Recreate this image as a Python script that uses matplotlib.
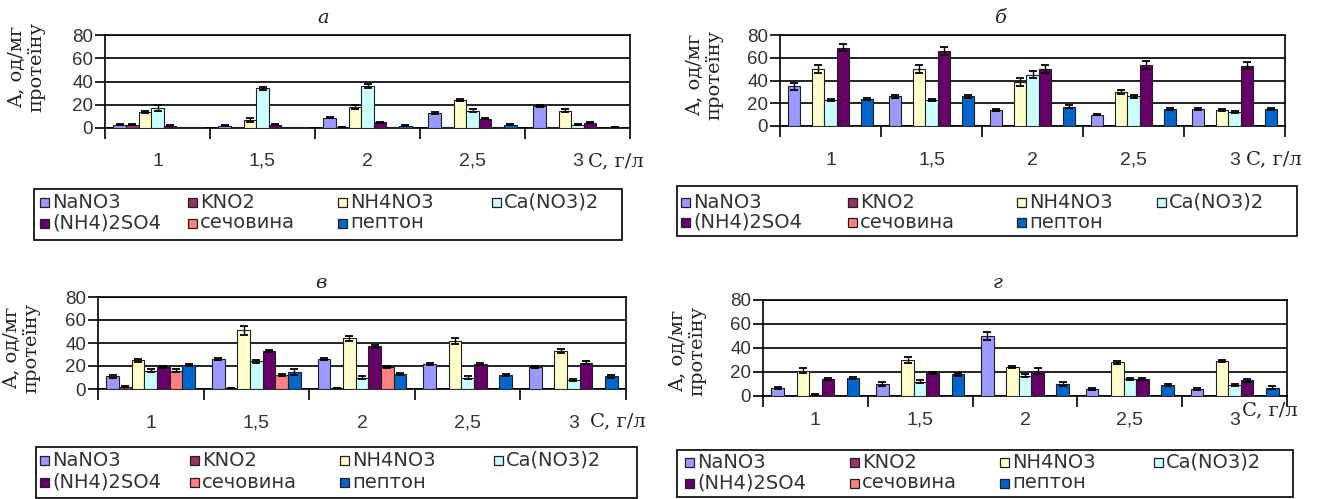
import numpy as np
import matplotlib
matplotlib.use("Agg")
import matplotlib.pyplot as plt
from matplotlib.patches import Rectangle

# ---------------------------------------------------------------
# Data
# ---------------------------------------------------------------
categories = ["1", "1,5", "2", "2,5", "3"]
series = ["NaNO3", "KNO2", "NH4NO3", "Ca(NO3)2", "(NH4)2SO4", "сечовина", "пептон"]
colors = ["#9999FF", "#993366", "#FFFFCC", "#CCFFFF", "#660066", "#FF8080", "#0066CC"]

# rows = series, columns = categories
a_vals = [[3, 2, 9, 13, 19],
          [3, 0.5, 1, 0.5, 0.5],
          [14, 7, 18, 24, 15],
          [17, 34, 36, 15, 3],
          [2, 3, 5, 8, 4.5],
          [0.5, 0.5, 0.5, 0.5, 0.3],
          [0.5, 0.5, 2, 3, 1]]
a_err = [[0.5, 0.5, 0.8, 1, 0.8],
         [0.3, 0.2, 0.2, 0.2, 0.2],
         [1, 1.5, 2, 1, 1],
         [2.5, 1, 2, 1, 0.5],
         [0.5, 0.5, 0.5, 0.5, 0.5],
         [0.2, 0.2, 0.2, 0.2, 0.2],
         [0.2, 0.2, 0.3, 0.3, 0.2]]

b_vals = [[35, 26, 14, 10, 15],
          [0, 0, 0, 0, 0],
          [50, 50, 39, 30, 14],
          [23, 23, 45, 26, 12],
          [69, 66, 50, 54, 53],
          [0, 0, 0, 0, 0],
          [24, 26, 17, 15, 15]]
b_err = [[3, 1, 0.8, 0.5, 0.8],
         [0, 0, 0, 0, 0],
         [3.5, 3.5, 3.5, 2, 1],
         [1, 1, 3, 1, 1],
         [3.5, 3.5, 3.5, 3.5, 3],
         [0, 0, 0, 0, 0],
         [1, 1, 1.5, 1, 1]]

v_vals = [[11, 26, 26, 22, 19],
          [2, 1, 1, 0, 0],
          [25, 51, 44, 42, 33],
          [16, 24, 10, 10, 8],
          [19, 33, 37, 22, 23],
          [16, 12, 19, 0, 0],
          [21, 15, 13, 12, 11]]
v_err = [[1, 1, 1, 1, 1],
         [0.3, 0.3, 0.3, 0, 0],
         [1.5, 4, 2, 2.5, 1.5],
         [1.5, 1, 1, 1, 1],
         [1, 1, 1.5, 1, 1],
         [1, 1, 1, 0, 0],
         [1, 2.5, 1, 1, 1]]

g_vals = [[7, 10, 50, 6, 6],
          [0, 0, 0, 0, 0],
          [21, 30, 24, 28, 29],
          [1, 12, 17, 14, 9],
          [14, 19, 21, 14, 13],
          [0, 0, 0, 0, 0],
          [15, 18, 10, 9, 7]]
g_err = [[0.8, 1.5, 3.5, 0.8, 0.8],
         [0, 0, 0, 0, 0],
         [2, 2.5, 1, 1, 1],
         [0.3, 1, 1.5, 1, 1],
         [1, 1, 2.5, 1, 1],
         [0, 0, 0, 0, 0],
         [1, 1, 2, 1, 1]]

# ---------------------------------------------------------------
# Layout (pixel positions in a 1320x499 figure)
# ---------------------------------------------------------------
W, H = 1320, 499
SANS = "Liberation Sans"
LEG = "DejaVu Sans"
SERIF = "DejaVu Serif"

panels = [
    dict(title="а", vals=a_vals, err=a_err, box=(105, 35, 630, 128), xpad=18,
         ylab=(27, 67), txy=(323, 18), uxy=(588, 161),
         lbox=(34, 189, 622, 240), lcols=(40, 188, 338, 492), lrows=(202, 223)),
    dict(title="б", vals=b_vals, err=b_err, box=(780, 35, 1285, 126), xpad=18.5,
         ylab=(705, 75), txy=(1000, 18), uxy=(1246, 159),
         lbox=(677, 186, 1297, 236), lcols=(681, 848, 1017, 1157), lrows=(202, 222)),
    dict(title="в", vals=v_vals, err=v_err, box=(98, 297, 626, 389), xpad=18.5,
         ylab=(22, 348), txy=(321, 283), uxy=(590, 421),
         lbox=(36, 447, 637, 498), lcols=(40, 190, 340, 494), lrows=(460, 482)),
    dict(title="г", vals=g_vals, err=g_err, box=(763, 300, 1287, 396), xpad=11.5,
         ylab=(688, 351), txy=(998, 283), uxy=(1242, 410),
         lbox=(677, 450, 1293, 497), lcols=(685, 850, 1000, 1154), lrows=(462, 483)),
]


def fx(px):
    return px / W


def fy(py):
    return 1 - py / H


fig = plt.figure(figsize=(W / 100, H / 100), dpi=100)

bw = 0.12
x = np.arange(len(categories))

for p in panels:
    l, t, r, b = p["box"]
    ax = fig.add_axes([fx(l), fy(b), fx(r - l), fy(t) - fy(b)])

    for i, (v, e) in enumerate(zip(p["vals"], p["err"])):
        v = np.array(v, dtype=float)
        e = np.array(e, dtype=float)
        pos = x + (i - 3) * bw
        ax.bar(pos, v, width=bw, color=colors[i], edgecolor="#202020",
               linewidth=0.8, zorder=3)
        m = v > 0.6
        if m.any():
            ax.errorbar(pos[m], v[m], yerr=e[m], fmt="none", ecolor="black",
                        elinewidth=1.0, capsize=3, capthick=1.3, zorder=4)

    ax.set_xlim(-0.5, len(categories) - 0.5)
    ax.set_ylim(0, 80)
    ax.set_yticks([0, 20, 40, 60, 80])
    ax.yaxis.grid(True, color="#111111", linewidth=1.3, zorder=1)
    ax.set_axisbelow(True)
    for s in ax.spines.values():
        s.set_color("black")
        s.set_linewidth(1.2)

    ax.set_xticks(x)
    ax.set_xticklabels(categories, fontsize=14, family=SANS, color="#333333")
    ax.set_xticks(np.arange(-0.5, len(categories), 1.0), minor=True)
    ax.tick_params(axis="x", which="major", length=0, pad=p["xpad"])
    ax.tick_params(axis="x", which="minor", length=8, width=1.2, direction="out")
    ax.tick_params(axis="y", length=7, width=1.2, direction="out", pad=1.5,
                   labelsize=13.5, labelcolor="#333333")
    for lab in ax.get_yticklabels():
        lab.set_family(SANS)

    # y label, title and unit label
    fig.text(fx(p["ylab"][0]), fy(p["ylab"][1]), "A, од/мг\nпротеїну", rotation=90,
             ha="center", va="center", fontsize=14, family=SERIF,
             linespacing=1.1, color="#222222")
    fig.text(fx(p["txy"][0]), fy(p["txy"][1]), p["title"], ha="center", va="center",
             fontsize=14, family=SERIF, style="italic", color="#222222")
    fig.text(fx(p["uxy"][0]), fy(p["uxy"][1]), "C, г/л", ha="left", va="center",
             fontsize=14, family=SERIF, color="#222222")

    # legend box with 4 columns x 2 rows
    ll, lt, lr, lb = p["lbox"]
    fig.add_artist(Rectangle((fx(ll), fy(lb)), fx(lr - ll), fy(lt) - fy(lb),
                             transform=fig.transFigure, facecolor="white",
                             edgecolor="black", linewidth=1.2))
    for k, name in enumerate(series):
        cx = p["lcols"][k % 4]
        cy = p["lrows"][k // 4]
        fig.add_artist(Rectangle((fx(cx), fy(cy + 4.5)), fx(9), fy(cy - 4.5) - fy(cy + 4.5),
                                 transform=fig.transFigure, facecolor=colors[k],
                                 edgecolor="#202020", linewidth=0.9))
        fig.text(fx(cx + 12), fy(cy), name, ha="left", va="center",
                 fontsize=14, family=LEG, color="#333333")

fig.savefig("out.png", dpi=100)
